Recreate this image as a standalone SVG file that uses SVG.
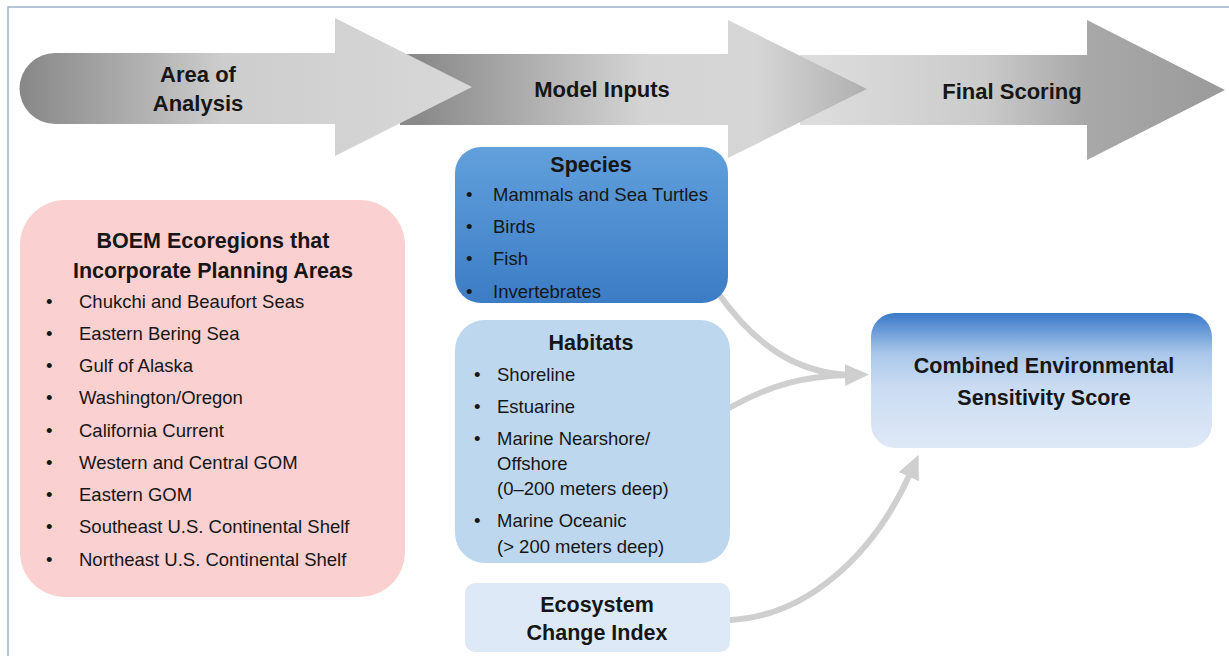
<svg xmlns="http://www.w3.org/2000/svg" width="1229" height="656" viewBox="0 0 1229 656">
  <defs>
    <linearGradient id="gArrow1" gradientUnits="userSpaceOnUse" x1="20" y1="0" x2="472" y2="0">
      <stop offset="0" stop-color="#878787"/>
      <stop offset="0.45" stop-color="#cdcdcd"/>
      <stop offset="1" stop-color="#d8d8d8"/>
    </linearGradient>
    <linearGradient id="gArrow2" gradientUnits="userSpaceOnUse" x1="420" y1="0" x2="867" y2="0">
      <stop offset="0" stop-color="#8a8a8a"/>
      <stop offset="0.5" stop-color="#d4d4d4"/>
      <stop offset="0.75" stop-color="#d6d6d6"/>
      <stop offset="1" stop-color="#b0b0b0"/>
    </linearGradient>
    <linearGradient id="gArrow3" gradientUnits="userSpaceOnUse" x1="820" y1="0" x2="1225" y2="0">
      <stop offset="0" stop-color="#dcdcdc"/>
      <stop offset="0.4" stop-color="#cbcbcb"/>
      <stop offset="0.65" stop-color="#a9a9a9"/>
      <stop offset="1" stop-color="#9a9a9a"/>
    </linearGradient>
    <linearGradient id="gSpecies" x1="0" y1="0" x2="0" y2="1">
      <stop offset="0" stop-color="#62a0dc"/>
      <stop offset="1" stop-color="#3b7cc5"/>
    </linearGradient>
    <linearGradient id="gScore" x1="0" y1="0" x2="0" y2="1">
      <stop offset="0" stop-color="#3a79c8"/>
      <stop offset="0.3" stop-color="#a9c7ea"/>
      <stop offset="0.55" stop-color="#cadcf2"/>
      <stop offset="1" stop-color="#dfe9f7"/>
    </linearGradient>
    <marker id="head" markerUnits="userSpaceOnUse" markerWidth="26" markerHeight="24" refX="3" refY="11" orient="auto">
      <path d="M0,0 L24,11 L0,22 Z" fill="#cfcfcf"/>
    </marker>
    <style>
      text { font-family: "Liberation Sans", Arial, sans-serif; fill: #161616; }
      .stage { font-size: 22px; font-weight: bold; text-anchor: middle; }
      .title { font-size: 21.5px; font-weight: bold; text-anchor: middle; }
      .item { font-size: 18.5px; }
      .link { fill: none; stroke: #cfcfcf; stroke-width: 6; stroke-linecap: round; }
    </style>
  </defs>

  <rect width="1229" height="656" fill="#ffffff"/>
  <!-- frame -->
  <path d="M8 656 L8 7 L1229 7" fill="none" stroke="#9db2c8" stroke-width="1.5"/>

  <!-- process arrows, drawn back to front -->
  <g id="stage-final-scoring">
    <path d="M800 55 L1087 55 L1087 20 L1225 90 L1087 160 L1087 125 L800 125 Z" fill="url(#gArrow3)"/>
    <text class="stage" x="1012" y="99">Final Scoring</text>
  </g>
  <g id="stage-model-inputs">
    <path d="M400 54 L728 54 L728 20 L867 89 L728 158 L728 125 L400 125 Z" fill="url(#gArrow2)"/>
    <text class="stage" x="602" y="97">Model Inputs</text>
  </g>
  <g id="stage-area-of-analysis">
    <path d="M55 53 L335 53 L335 18 L472 87 L335 156 L335 124 L55 124 A35.5 35.5 0 0 1 55 53 Z" fill="url(#gArrow1)"/>
    <text class="stage" x="198" y="82">Area of</text>
    <text class="stage" x="198" y="111">Analysis</text>
  </g>

  <!-- connectors -->
  <g id="connectors">
    <path class="link" d="M718 293 C755 345 795 372 848 375"/>
    <path class="link" d="M731 407 C770 385 805 376 848 375" marker-end="url(#head)"/>
    <path class="link" d="M731 620 C805 616 872 558 910 474" marker-end="url(#head)"/>
  </g>

  <!-- ecoregions -->
  <g id="ecoregions">
    <rect x="20" y="200" width="385" height="397" rx="45" fill="#fbd0d0"/>
    <text class="title" x="213" y="248">BOEM Ecoregions that</text>
    <text class="title" x="213" y="278">Incorporate Planning Areas</text>
    <g class="item">
      <text x="46" y="308">•</text><text x="79" y="308">Chukchi and Beaufort Seas</text>
      <text x="46" y="340">•</text><text x="79" y="340">Eastern Bering Sea</text>
      <text x="46" y="372">•</text><text x="79" y="372">Gulf of Alaska</text>
      <text x="46" y="404">•</text><text x="79" y="404">Washington/Oregon</text>
      <text x="46" y="437">•</text><text x="79" y="437">California Current</text>
      <text x="46" y="469">•</text><text x="79" y="469">Western and Central GOM</text>
      <text x="46" y="501">•</text><text x="79" y="501">Eastern GOM</text>
      <text x="46" y="533">•</text><text x="79" y="533">Southeast U.S. Continental Shelf</text>
      <text x="46" y="566">•</text><text x="79" y="566">Northeast U.S. Continental Shelf</text>
    </g>
  </g>

  <!-- species -->
  <g id="species">
    <rect x="455" y="147" width="273" height="156" rx="26" fill="url(#gSpecies)"/>
    <text class="title" x="591" y="172">Species</text>
    <g class="item">
      <text x="466" y="201">•</text><text x="493" y="201">Mammals and Sea Turtles</text>
      <text x="466" y="233">•</text><text x="493" y="233">Birds</text>
      <text x="466" y="265">•</text><text x="493" y="265">Fish</text>
      <text x="466" y="298">•</text><text x="493" y="298">Invertebrates</text>
    </g>
  </g>

  <!-- habitats -->
  <g id="habitats">
    <rect x="455" y="320" width="275" height="243" rx="30" fill="#bdd7ee"/>
    <text class="title" x="591" y="350">Habitats</text>
    <g class="item">
      <text x="474" y="381">•</text><text x="497" y="381">Shoreline</text>
      <text x="474" y="413">•</text><text x="497" y="413">Estuarine</text>
      <text x="474" y="445">•</text><text x="497" y="445">Marine Nearshore/</text>
      <text x="497" y="470">Offshore</text>
      <text x="497" y="495">(0–200 meters deep)</text>
      <text x="474" y="527">•</text><text x="497" y="527">Marine Oceanic</text>
      <text x="497" y="553">(&gt; 200 meters deep)</text>
    </g>
  </g>

  <!-- ecosystem change index -->
  <g id="ecosystem-change">
    <rect x="465" y="583" width="265" height="69" rx="10" fill="#dde9f6"/>
    <text class="title" x="597" y="612">Ecosystem</text>
    <text class="title" x="597" y="640">Change Index</text>
  </g>

  <!-- combined score -->
  <g id="combined-score">
    <rect x="871" y="313" width="341" height="135" rx="24" fill="url(#gScore)"/>
    <text class="title" x="1044" y="373">Combined Environmental</text>
    <text class="title" x="1044" y="405">Sensitivity Score</text>
  </g>
</svg>
